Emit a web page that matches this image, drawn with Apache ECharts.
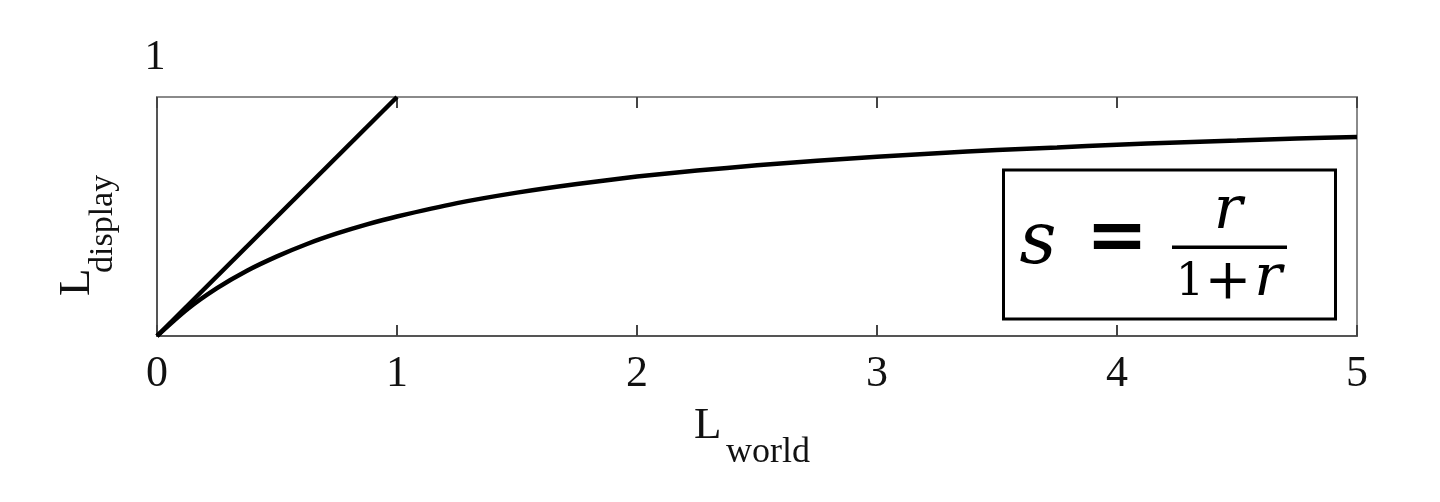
<!DOCTYPE html>
<html>
<head>
<meta charset="utf-8">
<script src="https://cdn.jsdelivr.net/npm/echarts@6/dist/echarts.min.js"></script>
<style>html,body{margin:0;padding:0;background:#fff;}#c{width:1440px;height:502px;}</style>
</head>
<body>
<div id="c"></div>
<script>
// ---- data ----
const xTickLabels = ['0', '1', '2', '3', '4', '5'];
const yTopLabel = '1';
const identityX = [0, 1];
const identityY = [0, 1];
const curveX = [0, 0.125, 0.25, 0.375, 0.5, 0.625, 0.75, 0.875, 1, 1.25, 1.5, 1.75, 2, 2.25, 2.5, 2.75, 3, 3.25, 3.5, 3.75, 4, 4.25, 4.5, 4.75, 5];
const curveY = [0, 0.111, 0.2, 0.273, 0.333, 0.385, 0.429, 0.467, 0.5, 0.556, 0.6, 0.636, 0.667, 0.692, 0.714, 0.733, 0.75, 0.765, 0.778, 0.789, 0.8, 0.81, 0.818, 0.826, 0.833];

const SERIF = '"Liberation Serif", "Times New Roman", serif';
const MATH = '"DejaVu Serif", serif';

const chart = echarts.init(document.getElementById('c'), null, {renderer: 'canvas'});
const tickStyle = {show: true, inside: true, length: 11, lineStyle: {color: '#444', width: 2}};

chart.setOption({
  backgroundColor: '#fff',
  animation: false,
  grid: {left: 157, right: 83, top: 97, bottom: 166, show: true, borderColor: '#8a8a8a', borderWidth: 2, backgroundColor: 'transparent'},
  xAxis: [{
    type: 'value', min: 0, max: 5, interval: 1, position: 'bottom',
    axisLine: {show: true, lineStyle: {color: '#555', width: 2}},
    axisTick: tickStyle,
    splitLine: {show: false},
    axisLabel: {show: true, margin: 16, fontFamily: SERIF, fontSize: 44, color: '#111', showMinLabel: true, showMaxLabel: true,
      formatter: function (v) { return xTickLabels[Math.round(v)]; }}
  }, {
    type: 'value', min: 0, max: 5, interval: 1, position: 'top',
    axisLine: {show: true, lineStyle: {color: '#8a8a8a', width: 2}},
    axisTick: tickStyle,
    splitLine: {show: false},
    axisLabel: {show: false}
  }],
  yAxis: {
    type: 'value', min: 0, max: 1,
    axisLine: {show: true, lineStyle: {color: '#555', width: 2}},
    axisTick: {show: false},
    splitLine: {show: false},
    axisLabel: {show: false}
  },
  series: [{
    type: 'line', name: 'identity', showSymbol: false, symbol: 'none',
    data: identityX.map((x, i) => [x, identityY[i]]),
    lineStyle: {color: '#000', width: 4.5}
  }, {
    type: 'line', name: 'curve', showSymbol: false, symbol: 'none', smooth: 0.25,
    data: curveX.map((x, i) => [x, curveY[i]]),
    lineStyle: {color: '#000', width: 4.5}
  }],
  graphic: [
    {type: 'text', x: 155, y: 58, style: {text: yTopLabel, font: '42px ' + SERIF, fill: '#111', align: 'center', verticalAlign: 'middle'}},
    {type: 'text', x: 694, y: 426, style: {text: 'L', font: '45px ' + SERIF, fill: '#111', align: 'left', verticalAlign: 'middle'}},
    {type: 'text', x: 726, y: 453, style: {text: 'world', font: '36px ' + SERIF, fill: '#111', align: 'left', verticalAlign: 'middle'}},
    {type: 'text', x: 77, y: 296, rotation: Math.PI / 2, style: {text: 'L', font: '45px ' + SERIF, fill: '#111', align: 'left', verticalAlign: 'middle'}},
    {type: 'text', x: 103, y: 273, rotation: Math.PI / 2, style: {text: 'display', font: '34px ' + SERIF, fill: '#111', align: 'left', verticalAlign: 'middle'}},
    {type: 'rect', shape: {x: 1003.5, y: 170, width: 332, height: 149}, style: {fill: '#fff', stroke: '#000', lineWidth: 3}, z: 100},
    {type: 'text', z: 101, x: 1038, y: 244, style: {text: 's', font: 'italic 72px ' + MATH, fill: '#000', align: 'center', verticalAlign: 'middle'}},
    {type: 'text', z: 101, x: 1117, y: 241, style: {text: '=', font: 'bold 74px ' + MATH, fill: '#000', align: 'center', verticalAlign: 'middle'}},
    {type: 'rect', z: 101, shape: {x: 1172, y: 245.5, width: 115, height: 3.5}, style: {fill: '#000'}},
    {type: 'text', z: 101, x: 1228, y: 212, style: {text: 'r', font: 'italic 60px ' + MATH, fill: '#000', align: 'center', verticalAlign: 'middle'}},
    {type: 'text', z: 101, x: 1190, y: 284, style: {text: '1', font: '44px ' + MATH, fill: '#000', align: 'center', verticalAlign: 'middle'}},
    {type: 'text', z: 101, x: 1228, y: 283, style: {text: '+', font: '56px ' + MATH, fill: '#000', align: 'center', verticalAlign: 'middle'}},
    {type: 'text', z: 101, x: 1268, y: 280, style: {text: 'r', font: 'italic 58px ' + MATH, fill: '#000', align: 'center', verticalAlign: 'middle'}}
  ]
});
</script>
</body>
</html>
